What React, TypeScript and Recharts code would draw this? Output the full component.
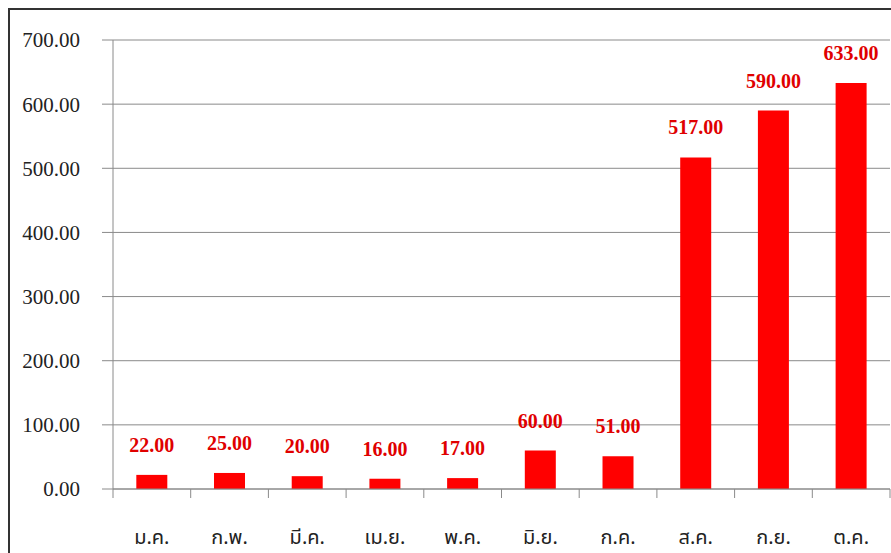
import { BarChart, Bar, XAxis, YAxis, CartesianGrid, LabelList } from "recharts";

// monthly values (Thai month abbreviations)
const months = ["ม.ค.", "ก.พ.", "มี.ค.", "เม.ย.", "พ.ค.", "มิ.ย.", "ก.ค.", "ส.ค.", "ก.ย.", "ต.ค."];
const values = [22, 25, 20, 16, 17, 60, 51, 517, 590, 633];
const yTicks = [0, 100, 200, 300, 400, 500, 600, 700];

const data = months.map((m, i) => ({ month: m, value: values[i] }));

const CHART_W = 881;
const CHART_H = 543;
const PLOT_LEFT = 103;
const PLOT_RIGHT = 1;
const HALF_BAND = (CHART_W - PLOT_LEFT - PLOT_RIGHT) / months.length / 2;
const GRID = "#8a8a8a";

function MonthTick(props: any) {
  const { x, y, payload, index } = props;
  const last = index === months.length - 1;
  return (
    <g>
      <line x1={x - HALF_BAND} x2={x - HALF_BAND} y1={y} y2={y + 9} stroke={GRID} />
      {last && <line x1={x + HALF_BAND} x2={x + HALF_BAND} y1={y} y2={y + 9} stroke={GRID} />}
      <text
        x={x}
        y={y + 55}
        textAnchor="middle"
        fontSize={20}
        fill="#222"
        fontFamily="'Noto Sans Thai', Tahoma, 'DejaVu Sans', sans-serif"
      >
        {payload.value}
      </text>
    </g>
  );
}

export default function App() {
  return (
    <div
      style={{
        position: "fixed",
        left: 8,
        top: 8,
        width: CHART_W,
        height: CHART_H,
        borderTop: "2px solid #333",
        borderLeft: "2px solid #333",
        background: "#fff",
      }}
    >
      <BarChart
        width={CHART_W}
        height={CHART_H}
        data={data}
        margin={{ top: 30, right: PLOT_RIGHT, bottom: 0, left: 0 }}
        barCategoryGap="30%"
        style={{ overflow: "visible" }}
      >
        <CartesianGrid vertical={false} stroke={GRID} />
        <XAxis
          dataKey="month"
          height={64}
          axisLine={{ stroke: GRID }}
          tickLine={false}
          tickSize={0}
          tickMargin={0}
          interval={0}
          tick={<MonthTick />}
        />
        <YAxis
          width={PLOT_LEFT}
          domain={[0, 700]}
          ticks={yTicks}
          interval={0}
          axisLine={{ stroke: GRID }}
          tickLine={{ stroke: GRID }}
          tickSize={11}
          tickMargin={22}
          tickFormatter={(v: number) => v.toFixed(2)}
          tick={{ fill: "#222", fontSize: 21, fontFamily: "'Liberation Serif', 'Times New Roman', serif" }}
        />
        <Bar dataKey="value" fill="#ff0000" isAnimationActive={false}>
          <LabelList
            dataKey="value"
            position="top"
            offset={23}
            formatter={(v: any) => Number(v).toFixed(2)}
            style={{
              fill: "#e00000",
              fontSize: 20,
              fontWeight: "bold",
              fontFamily: "'Liberation Serif', 'Times New Roman', serif",
            }}
          />
        </Bar>
      </BarChart>
    </div>
  );
}
